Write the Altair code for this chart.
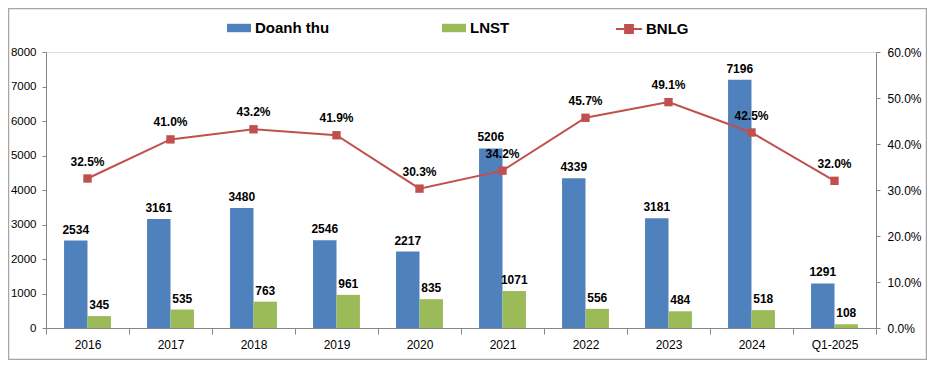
import altair as alt
import pandas as pd

years = ["2016", "2017", "2018", "2019", "2020", "2021", "2022", "2023", "2024", "Q1-2025"]
doanh_thu = [2534, 3161, 3480, 2546, 2217, 5206, 4339, 3181, 7196, 1291]
lnst = [345, 535, 763, 961, 835, 1071, 556, 484, 518, 108]
bnlg = [32.5, 41.0, 43.2, 41.9, 30.3, 34.2, 45.7, 49.1, 42.5, 32.0]
series = ["Doanh thu", "LNST"]

BLUE = "#4F81BD"
GREEN = "#9BBB59"
RED = "#C0504D"
AXIS_GRAY = "#868686"
FONT = "Liberation Sans"

bars_df = pd.DataFrame(
    [{"year": y, "series": "Doanh thu", "value": v} for y, v in zip(years, doanh_thu)]
    + [{"year": y, "series": "LNST", "value": v} for y, v in zip(years, lnst)]
)
line_df = pd.DataFrame({"year": years, "rate": [b / 100 for b in bnlg], "lbl": ["BNLG"] * len(years)})
frame_df = pd.DataFrame({"k": [0]})

PAD_L = 38
W = 830

x_enc = alt.X(
    "year:N",
    sort=years,
    scale=alt.Scale(paddingInner=0, paddingOuter=0),
    axis=alt.Axis(
        title=None, labelAngle=0, tickBand="extent", tickSize=6, labelPadding=5,
        domainColor=AXIS_GRAY, tickColor=AXIS_GRAY, labelFont=FONT, labelFontSize=12,
        labelColor="#000000", grid=False,
    ),
)
xoff = alt.XOffset("series:N", sort=series, scale=alt.Scale(paddingInner=0, paddingOuter=0.77))

y_left = alt.Y(
    "value:Q",
    scale=alt.Scale(domain=[0, 8000], nice=False),
    axis=alt.Axis(
        title=None, values=list(range(0, 8001, 1000)), format="d", tickSize=4, labelPadding=6,
        domainColor=AXIS_GRAY, tickColor=AXIS_GRAY, labelFont=FONT, labelFontSize=11.5,
        labelColor="#000000", grid=False,
    ),
)
y_right = alt.Y(
    "rate:Q",
    scale=alt.Scale(domain=[0, 0.6], nice=False),
    axis=alt.Axis(
        title=None, orient="right", values=[0, 0.1, 0.2, 0.3, 0.4, 0.5, 0.6], format=".1%",
        tickSize=4, labelPadding=7, domainColor=AXIS_GRAY, tickColor=AXIS_GRAY,
        labelFont=FONT, labelFontSize=12, labelColor="#000000", grid=False,
    ),
)

bars = alt.Chart(bars_df).mark_bar().encode(
    x=x_enc,
    xOffset=xoff,
    y=y_left,
    color=alt.Color(
        "series:N",
        scale=alt.Scale(domain=series, range=[BLUE, GREEN]),
        legend=alt.Legend(
            title=None, orient="none", legendX=181, legendY=-36, direction="horizontal",
            symbolType="M-1,-0.35H1V0.35H-1Z", symbolSize=576, symbolStrokeWidth=0,
            labelFont=FONT, labelFontSize=15, labelFontWeight="bold", labelColor="#000000",
            labelOffset=4, columnPadding=112, padding=0,
        ),
    ),
)
bar_text = alt.Chart(bars_df).mark_text(
    font=FONT, fontSize=12, fontWeight="bold", color="#000000", dy=-7, baseline="alphabetic"
).encode(x=x_enc, xOffset=xoff, y=y_left, text=alt.Text("value:Q", format="d"))

frame = alt.Chart(frame_df).mark_rect(filled=False, stroke="#A6A6A6", strokeWidth=1.5).encode(
    x=alt.value(0.5 - PAD_L), x2=alt.value(918.5 - PAD_L), y=alt.value(-43.5), y2=alt.value(307.5)
)

left = alt.layer(frame, bars, bar_text)

line = alt.Chart(line_df).mark_line(color=RED, strokeWidth=2).encode(x=x_enc, y=y_right)
points = alt.Chart(line_df).mark_square(size=70, opacity=1, filled=True).encode(
    x=x_enc,
    y=y_right,
    color=alt.Color(
        "lbl:N",
        scale=alt.Scale(domain=["BNLG"], range=[RED]),
        legend=alt.Legend(
            title=None, orient="none", legendX=569, legendY=-37, direction="horizontal",
            symbolType="M-1,0H-0.3M0.3,0H1M-0.3,-0.3H0.3V0.3H-0.3Z", symbolSize=676,
            symbolStrokeColor=RED, symbolStrokeWidth=2,
            labelFont=FONT, labelFontSize=15, labelFontWeight="bold", labelColor="#000000",
            labelOffset=3, padding=0,
        ),
    ),
)
line_text = alt.Chart(line_df).mark_text(
    font=FONT, fontSize=12, fontWeight="bold", color="#000000", dy=-13, baseline="alphabetic"
).encode(x=x_enc, y=y_right, text=alt.Text("rate:Q", format=".1%"))

right = alt.layer(line, points, line_text)

chart = alt.layer(left, right).resolve_scale(y="independent", color="independent").properties(
    width=W,
    height=276,
    autosize=alt.AutoSizeParams(type="none"),
    padding={"left": PAD_L, "top": 44, "right": 919 - PAD_L - W, "bottom": 32},
).configure_view(stroke=None).configure(background="#FFFFFF")

chart.save("out.html", embed_options={"renderer": "svg", "actions": False})
